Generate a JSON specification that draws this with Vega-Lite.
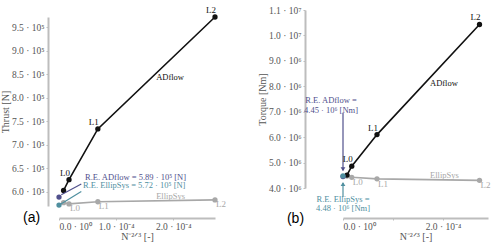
{
  "$schema": "https://vega.github.io/schema/vega-lite/v6.json",
  "background": "white",
  "padding": {"left": 0, "top": 5, "right": 0, "bottom": 0},
  "spacing": 90,
  "bounds": "flush",
  "config": {
    "view": {"stroke": null},
    "axis": {
      "domainColor": "#bdbdbd", "domainWidth": 2, "tickColor": "#bdbdbd", "tickSize": 2,
      "labelColor": "#555", "labelFont": "Liberation Serif", "labelFontSize": 9.5,
      "titleFont": "Liberation Serif", "titleFontSize": 10, "titleFontWeight": "normal", "titleColor": "#555",
      "grid": false, "labelPadding": 2
    },
    "axisY": {"titlePadding": 1},
    "axisX": {"labelPadding": 1, "titlePadding": 1},
    "text": {"font": "Liberation Serif", "fontSize": 8.5}
  },
  "datasets": {
    "left": [
      {"k": "AD", "x": 8e-6, "y": 603000, "lab": ""},
      {"k": "AD", "x": 1.75e-5, "y": 626000, "lab": "L0"},
      {"k": "AD", "x": 6.8e-5, "y": 734000, "lab": "L1"},
      {"k": "AD", "x": 2.73e-4, "y": 972000, "lab": "L2"},
      {"k": "ES", "x": 8e-6, "y": 577000, "lab": ""},
      {"k": "ES", "x": 1.75e-5, "y": 574500, "lab": "L0"},
      {"k": "ES", "x": 6.8e-5, "y": 579000, "lab": "L1"},
      {"k": "ES", "x": 2.73e-4, "y": 583000, "lab": "L2"},
      {"k": "RE_AD", "x": 0, "y": 589000},
      {"k": "RE_ES", "x": 0, "y": 572000},
      {"k": "lead_AD", "x": 4e-6, "y": 594000, "x2": 3.9e-5, "y2": 617000},
      {"k": "lead_ES", "x": 1.2e-6, "y": 572800, "x2": 3.9e-5, "y2": 601000},
      {"k": "txt_AD", "x": 4.56e-5, "y": 632500, "text": "R.E. ADflow = 5.89 · 10⁵ [N]"},
      {"k": "txt_ES", "x": 4.2e-5, "y": 614000, "text": "R.E. EllipSys = 5.72 · 10⁵ [N]"},
      {"k": "txt_black", "x": 1.7e-4, "y": 844500, "text": "ADflow"},
      {"k": "txt_gray", "x": 1.7e-4, "y": 591000, "text": "EllipSys"},
      {"k": "panel", "x": -4.8e-5, "y": 545000, "text": "(a)"}
    ],
    "right": [
      {"k": "AD", "x": 8e-6, "y": 4510000, "lab": ""},
      {"k": "AD", "x": 1.75e-5, "y": 4860000, "lab": "L0"},
      {"k": "AD", "x": 6.8e-5, "y": 6100000, "lab": "L1"},
      {"k": "AD", "x": 2.73e-4, "y": 10430000, "lab": "L2"},
      {"k": "ES", "x": 8e-6, "y": 4470000, "lab": ""},
      {"k": "ES", "x": 1.75e-5, "y": 4420000, "lab": "L0"},
      {"k": "ES", "x": 6.8e-5, "y": 4360000, "lab": "L1"},
      {"k": "ES", "x": 2.73e-4, "y": 4300000, "lab": "L2"},
      {"k": "RE_AD", "x": 0, "y": 4450000},
      {"k": "RE_ES", "x": 0, "y": 4480000},
      {"k": "lead_AD", "x": 0, "y": 6960000, "x2": 0, "y2": 4700000},
      {"k": "lead_ES", "x": 0, "y": 3650000, "x2": 0, "y2": 4200000},
      {"k": "arrow_AD", "x": 0, "y": 4740000},
      {"k": "arrow_ES", "x": 0, "y": 4160000},
      {"k": "txt_AD", "x": -2.4e-5, "y": 7450000, "text": "R.E. ADflow ="},
      {"k": "txt_AD", "x": -2.4e-5, "y": 7080000, "text": "4.45 · 10⁶ [Nm]"},
      {"k": "txt_ES", "x": 0, "y": 3580000, "text": "R.E. EllipSys ="},
      {"k": "txt_ES", "x": 0, "y": 3230000, "text": "4.48 · 10⁶ [Nm]"},
      {"k": "txt_black", "x": 1.74e-4, "y": 8130000, "text": "ADflow"},
      {"k": "txt_gray", "x": 1.74e-4, "y": 4510000, "text": "EllipSys"},
      {"k": "panel", "x": -0.95e-4, "y": 2800000, "text": "(b)"}
    ]
  },
  "hconcat": [
    {
      "width": 167, "height": 208,
      "data": {"name": "left"},
      "encoding": {
        "x": {"field": "x", "type": "quantitative",
          "scale": {"domain": [0, 0.000273], "range": [11, 167], "nice": false, "zero": false},
          "axis": {"values": [0, 0.0001, 0.0002], "title": "N⁻²ᐟ³ [-]",
            "labelExpr": "datum.value == 0 ? '0.0 · 10⁰' : format(datum.value * 10000, '.1f') + ' · 10⁻⁴'"}},
        "y": {"field": "y", "type": "quantitative",
          "scale": {"domain": [570000, 972000], "range": [196, 7], "nice": false, "zero": false},
          "axis": {"values": [600000, 650000, 700000, 750000, 800000, 850000, 900000, 950000], "title": "Thrust [N]",
            "labelExpr": "format(datum.value / 100000, '.1f') + ' · 10⁵'"}}
      },
      "layer": [
        {"transform": [{"filter": "datum.k == 'ES'"}], "mark": {"type": "line", "color": "#a8a8a8", "strokeWidth": 1.6}},
        {"transform": [{"filter": "datum.k == 'ES'"}], "mark": {"type": "point", "filled": true, "color": "#a8a8a8", "size": 28, "opacity": 1}},
        {"transform": [{"filter": "datum.k == 'AD'"}], "mark": {"type": "line", "color": "#111", "strokeWidth": 1.6}},
        {"transform": [{"filter": "datum.k == 'AD'"}], "mark": {"type": "point", "filled": true, "color": "#111", "size": 28, "opacity": 1}},
        {"transform": [{"filter": "datum.k == 'lead_AD'"}], "mark": {"type": "rule", "color": "#50508c", "strokeWidth": 1.2},
          "encoding": {"x2": {"field": "x2"}, "y2": {"field": "y2"}}},
        {"transform": [{"filter": "datum.k == 'lead_ES'"}], "mark": {"type": "rule", "color": "#4f8f9f", "strokeWidth": 1.2},
          "encoding": {"x2": {"field": "x2"}, "y2": {"field": "y2"}}},
        {"transform": [{"filter": "datum.k == 'RE_AD'"}], "mark": {"type": "point", "filled": true, "color": "#50508c", "size": 28, "opacity": 1}},
        {"transform": [{"filter": "datum.k == 'RE_ES'"}], "mark": {"type": "point", "filled": true, "color": "#4f8f9f", "size": 28, "opacity": 1}},
        {"transform": [{"filter": "datum.k == 'AD' && datum.lab != ''"}], "mark": {"type": "text", "color": "#111", "align": "center", "baseline": "bottom", "dx": -4, "dy": -2, "fontSize": 9},
          "encoding": {"text": {"field": "lab"}}},
        {"transform": [{"filter": "datum.k == 'ES' && datum.lab != ''"}], "mark": {"type": "text", "color": "#a8a8a8", "align": "left", "baseline": "top", "dx": 1, "dy": 0, "fontSize": 9},
          "encoding": {"text": {"field": "lab"}}},
        {"transform": [{"filter": "datum.k == 'txt_AD'"}], "mark": {"type": "text", "color": "#50508c", "align": "left", "baseline": "middle"},
          "encoding": {"text": {"field": "text"}}},
        {"transform": [{"filter": "datum.k == 'txt_ES'"}], "mark": {"type": "text", "color": "#4f8f9f", "align": "left", "baseline": "middle"},
          "encoding": {"text": {"field": "text"}}},
        {"transform": [{"filter": "datum.k == 'txt_black'"}], "mark": {"type": "text", "color": "#111", "align": "left", "baseline": "middle"},
          "encoding": {"text": {"field": "text"}}},
        {"transform": [{"filter": "datum.k == 'txt_gray'"}], "mark": {"type": "text", "color": "#a8a8a8", "align": "left", "baseline": "middle"},
          "encoding": {"text": {"field": "text"}}},
        {"transform": [{"filter": "datum.k == 'panel'"}], "mark": {"type": "text", "color": "#000", "align": "center", "baseline": "middle", "font": "Liberation Sans", "fontSize": 14},
          "encoding": {"text": {"field": "text"}}}
      ]
    },
    {
      "width": 183, "height": 208,
      "data": {"name": "right"},
      "encoding": {
        "x": {"field": "x", "type": "quantitative",
          "scale": {"domain": [0, 0.00029], "range": [38, 183], "nice": false, "zero": false},
          "axis": {"values": [0, 0.0001, 0.0002], "title": "N⁻²ᐟ³ [-]",
            "labelExpr": "datum.value == 0 ? '0.0 · 10⁰' : format(datum.value * 10000, '.1f') + ' · 10⁻⁴'"}},
        "y": {"field": "y", "type": "quantitative",
          "scale": {"domain": [4000000, 11000000], "range": [178, 0], "nice": false, "zero": false},
          "axis": {"values": [4000000, 5000000, 6000000, 7000000, 8000000, 9000000, 10000000, 11000000], "title": "Torque [Nm]",
            "labelExpr": "datum.value >= 10000000 ? format(datum.value / 10000000, '.1f') + ' · 10⁷' : format(datum.value / 1000000, '.1f') + ' · 10⁶'"}}
      },
      "layer": [
        {"transform": [{"filter": "datum.k == 'ES'"}], "mark": {"type": "line", "color": "#a8a8a8", "strokeWidth": 1.6}},
        {"transform": [{"filter": "datum.k == 'ES'"}], "mark": {"type": "point", "filled": true, "color": "#a8a8a8", "size": 28, "opacity": 1}},
        {"transform": [{"filter": "datum.k == 'AD'"}], "mark": {"type": "line", "color": "#111", "strokeWidth": 1.6}},
        {"transform": [{"filter": "datum.k == 'AD'"}], "mark": {"type": "point", "filled": true, "color": "#111", "size": 28, "opacity": 1}},
        {"transform": [{"filter": "datum.k == 'lead_AD'"}], "mark": {"type": "rule", "color": "#50508c", "strokeWidth": 1.2},
          "encoding": {"x2": {"field": "x2"}, "y2": {"field": "y2"}}},
        {"transform": [{"filter": "datum.k == 'lead_ES'"}], "mark": {"type": "rule", "color": "#4f8f9f", "strokeWidth": 1.2},
          "encoding": {"x2": {"field": "x2"}, "y2": {"field": "y2"}}},
        {"transform": [{"filter": "datum.k == 'RE_AD'"}], "mark": {"type": "point", "filled": true, "color": "#50508c", "size": 28, "opacity": 1}},
        {"transform": [{"filter": "datum.k == 'RE_ES'"}], "mark": {"type": "point", "filled": true, "color": "#4f8f9f", "size": 28, "opacity": 1}},
        {"transform": [{"filter": "datum.k == 'arrow_AD'"}], "mark": {"type": "point", "filled": true, "shape": "triangle-down", "color": "#50508c", "size": 22, "opacity": 1}},
        {"transform": [{"filter": "datum.k == 'arrow_ES'"}], "mark": {"type": "point", "filled": true, "shape": "triangle-up", "color": "#4f8f9f", "size": 22, "opacity": 1}},
        {"transform": [{"filter": "datum.k == 'AD' && datum.lab != ''"}], "mark": {"type": "text", "color": "#111", "align": "center", "baseline": "bottom", "dx": -4, "dy": -2, "fontSize": 9},
          "encoding": {"text": {"field": "lab"}}},
        {"transform": [{"filter": "datum.k == 'ES' && datum.lab != ''"}], "mark": {"type": "text", "color": "#a8a8a8", "align": "left", "baseline": "top", "dx": 1, "dy": 1, "fontSize": 9},
          "encoding": {"text": {"field": "lab"}}},
        {"transform": [{"filter": "datum.k == 'txt_AD'"}], "mark": {"type": "text", "color": "#50508c", "align": "center", "baseline": "middle"},
          "encoding": {"text": {"field": "text"}}},
        {"transform": [{"filter": "datum.k == 'txt_ES'"}], "mark": {"type": "text", "color": "#4f8f9f", "align": "center", "baseline": "middle"},
          "encoding": {"text": {"field": "text"}}},
        {"transform": [{"filter": "datum.k == 'txt_black'"}], "mark": {"type": "text", "color": "#111", "align": "left", "baseline": "middle"},
          "encoding": {"text": {"field": "text"}}},
        {"transform": [{"filter": "datum.k == 'txt_gray'"}], "mark": {"type": "text", "color": "#a8a8a8", "align": "left", "baseline": "middle"},
          "encoding": {"text": {"field": "text"}}},
        {"transform": [{"filter": "datum.k == 'panel'"}], "mark": {"type": "text", "color": "#000", "align": "center", "baseline": "middle", "font": "Liberation Sans", "fontSize": 14},
          "encoding": {"text": {"field": "text"}}}
      ]
    }
  ]
}
